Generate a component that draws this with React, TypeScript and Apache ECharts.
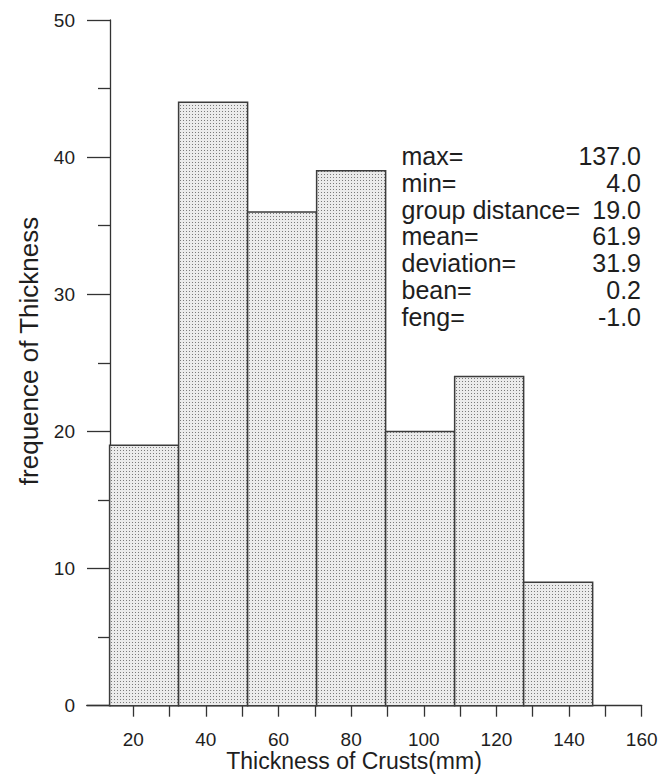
import React, { useEffect, useRef } from "react";
import * as echarts from "echarts";

// ---- data ----
const binStarts = [13.5, 32.5, 51.5, 70.5, 89.5, 108.5, 127.5];
const groupDistance = 19.0;
const counts = [19, 44, 36, 39, 20, 24, 9];
const xTickValues = [20, 30, 40, 50, 60, 70, 80, 90, 100, 110, 120, 130, 140, 150, 160];
const xLabelValues = [20, 40, 60, 80, 100, 120, 140, 160];
const statLabels = ["max=", "min=", "group distance=", "mean=", "deviation=", "bean=", "feng="];
const statValues = ["137.0", "4.0", "19.0", "61.9", "31.9", "0.2", "-1.0"];
const xTitle = "Thickness of Crusts(mm)";
const yTitle = "frequence of Thickness";

const FONT = "Liberation Sans";
const INK = "#1e1e1e";

function makePattern(): HTMLCanvasElement {
  const c = document.createElement("canvas");
  c.width = 3;
  c.height = 3;
  const ctx = c.getContext("2d")!;
  ctx.fillStyle = "#ebebeb";
  ctx.fillRect(0, 0, 3, 3);
  ctx.fillStyle = "#7a7a7a";
  ctx.fillRect(0, 0, 1, 1);
  return c;
}

export default function App() {
  const ref = useRef<HTMLDivElement>(null);
  useEffect(() => {
    if (!ref.current) return;
    const chart = echarts.init(ref.current, undefined, { renderer: "svg" });
    const pattern = makePattern();
    const data = binStarts.map((s, i) => [s, s + groupDistance, counts[i]]);

    const graphics: any[] = [];
    statLabels.forEach((lab, i) => {
      graphics.push({
        type: "text",
        x: 401.5,
        y: 156.3 + i * 26.7,
        style: { text: lab, font: `25px ${FONT}`, fill: INK, align: "left", verticalAlign: "middle" },
      });
      graphics.push({
        type: "text",
        x: 641,
        y: 156.3 + i * 26.7,
        style: { text: statValues[i], font: `25px ${FONT}`, fill: INK, align: "right", verticalAlign: "middle" },
      });
    });
    graphics.push({
      type: "text",
      x: 354,
      y: 761,
      style: { text: xTitle, font: `23px ${FONT}`, fill: INK, align: "center", verticalAlign: "middle" },
    });
    graphics.push({
      type: "text",
      x: 29,
      y: 351,
      rotation: Math.PI / 2,
      style: { text: yTitle, font: `26px ${FONT}`, fill: INK, align: "center", verticalAlign: "middle" },
    });

    const axisLineStyle = { color: "#333", width: 1.3 };
    const labelStyle = { fontSize: 19, fontFamily: FONT, color: INK };

    chart.setOption({
      animation: false,
      backgroundColor: "#ffffff",
      grid: { left: 86.7, top: 20, width: 555, height: 685.7, containLabel: false },
      xAxis: {
        type: "value",
        min: 7.2,
        max: 160,
        axisLine: { show: true, onZero: false, lineStyle: axisLineStyle },
        axisTick: { show: true, length: 11, customValues: xTickValues, lineStyle: axisLineStyle },
        axisLabel: {
          show: true,
          customValues: xLabelValues,
          margin: 24,
          ...labelStyle,
        },
        splitLine: { show: false },
      },
      yAxis: {
        type: "value",
        min: 0,
        max: 50,
        interval: 10,
        offset: -23.3,
        axisLine: { show: true, onZero: false, lineStyle: axisLineStyle },
        axisTick: { show: true, length: 23, lineStyle: axisLineStyle },
        minorTick: { show: true, splitNumber: 2, length: 12, lineStyle: axisLineStyle },
        axisLabel: { show: true, margin: 35, ...labelStyle },
        splitLine: { show: false },
        minorSplitLine: { show: false },
      },
      series: [
        {
          type: "custom",
          data,
          encode: { x: [0, 1], y: 2 },
          renderItem: (params: any, api: any) => {
            const s = api.value(0);
            const e = api.value(1);
            const c = api.value(2);
            const p0 = api.coord([s, c]);
            const p1 = api.coord([e, 0]);
            return {
              type: "rect",
              shape: { x: p0[0], y: p0[1], width: p1[0] - p0[0], height: p1[1] - p0[1] },
              style: {
                fill: { image: pattern, repeat: "repeat" },
                stroke: "#3c3c3c",
                lineWidth: 1.5,
              },
            };
          },
        },
      ],
      graphic: graphics,
    });
    return () => chart.dispose();
  }, []);
  return (
    <div
      ref={ref}
      style={{ position: "fixed", left: 0, top: 0, width: 671, height: 775, background: "#fff" }}
    />
  );
}
